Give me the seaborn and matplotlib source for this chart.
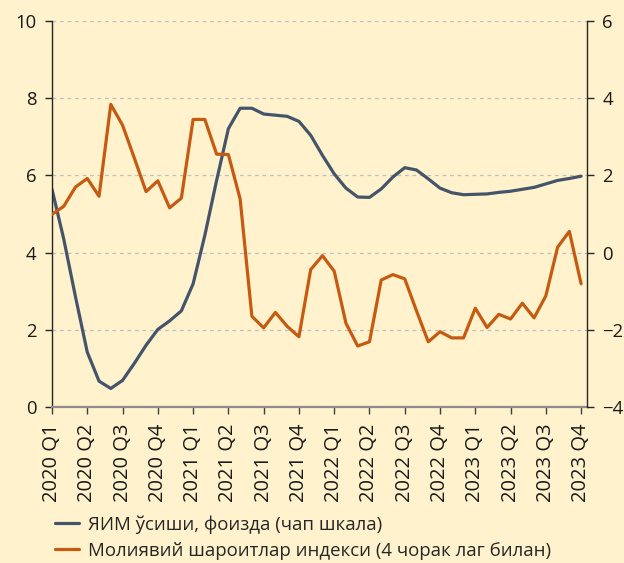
import numpy as np
import pandas as pd
import matplotlib
matplotlib.use("Agg")
import matplotlib.pyplot as plt
import seaborn as sns

# ---- data ----
quarter_labels = ["2020 Q1", "2020 Q2", "2020 Q3", "2020 Q4",
                  "2021 Q1", "2021 Q2", "2021 Q3", "2021 Q4",
                  "2022 Q1", "2022 Q2", "2022 Q3", "2022 Q4",
                  "2023 Q1", "2023 Q2", "2023 Q3", "2023 Q4"]
gdp_growth = [5.64, 4.35, 2.85, 1.42, 0.67, 0.48, 0.69, 1.13, 1.60, 2.01,
              2.23, 2.49, 3.19, 4.45, 5.87, 7.21, 7.74, 7.74, 7.59, 7.56,
              7.53, 7.40, 7.04, 6.52, 6.04, 5.67, 5.44, 5.43, 5.65, 5.96,
              6.20, 6.14, 5.91, 5.67, 5.55, 5.50, 5.51, 5.52, 5.56, 5.59,
              5.64, 5.69, 5.78, 5.87, 5.92, 5.98]
fci_lag4 = [0.99, 1.20, 1.70, 1.92, 1.46, 3.84, 3.30, 2.45, 1.58, 1.86,
            1.16, 1.41, 3.45, 3.45, 2.55, 2.54, 1.39, -1.65, -1.95, -1.55,
            -1.91, -2.18, -0.44, -0.08, -0.48, -1.83, -2.42, -2.31, -0.71, -0.57,
            -0.68, -1.51, -2.31, -2.05, -2.21, -2.21, -1.44, -1.94, -1.60, -1.72,
            -1.31, -1.69, -1.12, 0.14, 0.55, -0.81]
label_gdp = "ЯИМ ўсиши, фоизда (чап шкала)"
label_fci = "Молиявий шароитлар индекси (4 чорак лаг билан)"

periods = np.arange(len(gdp_growth))
df = pd.DataFrame({"period": periods, "gdp": gdp_growth, "fci": fci_lag4})

BG = "#FFF2CC"
BLUE = "#44546A"
ORANGE = "#C55A11"

sns.set_theme(style="white")
plt.rcParams["font.family"] = ["Open Sans", "DejaVu Sans"]
plt.rcParams["font.size"] = 13

fig = plt.figure(figsize=(6.24, 5.63), dpi=100, facecolor=BG)
ax = fig.add_axes([52 / 624, 1 - 407 / 563, 535 / 624, 386 / 563])
ax.set_facecolor(BG)
ax2 = ax.twinx()

sns.lineplot(data=df, x="period", y="gdp", ax=ax, color=BLUE, linewidth=2.3,
             label=label_gdp, legend=False)
sns.lineplot(data=df, x="period", y="fci", ax=ax2, color=ORANGE, linewidth=2.3,
             label=label_fci, legend=False)

ax.set_xlim(0, 45.5)
ax.set_ylim(0, 10)
ax2.set_ylim(-4, 6)
ax.set_yticks(np.arange(0, 11, 2))
ax2.set_yticks(np.arange(-4, 7, 2))
ax.set_xticks(np.arange(0, len(gdp_growth), 3))
ax.set_xticklabels(quarter_labels, rotation=90)
ax.set_xlabel("")
ax.set_ylabel("")
ax2.set_ylabel("")

ax.yaxis.grid(True, linestyle=(0, (3, 3)), color="#BFBFBF", linewidth=0.9)
ax.set_axisbelow(True)

for a in (ax, ax2):
    for s in a.spines.values():
        s.set_visible(False)
ax.spines["left"].set_visible(True)
ax.spines["left"].set_color("#262626")
ax.spines["left"].set_linewidth(1.0)
ax.spines["bottom"].set_visible(True)
ax.spines["bottom"].set_color("#8C8C8C")
ax.spines["bottom"].set_linewidth(1.6)
ax2.spines["right"].set_visible(True)
ax2.spines["right"].set_color("#262626")
ax2.spines["right"].set_linewidth(1.0)

ax.tick_params(axis="y", which="major", direction="out", length=5, width=1,
               color="#262626", labelsize=13.3, labelcolor="#1a1a1a", pad=6, left=True)
ax2.tick_params(axis="y", which="major", direction="out", length=5, width=1,
                color="#262626", labelsize=13.3, labelcolor="#1a1a1a", pad=6, right=True)
ax.tick_params(axis="x", which="major", direction="out", length=5, width=1,
               color="#404040", labelsize=14.5, labelcolor="#1a1a1a", pad=7, bottom=True)

h1, l1 = ax.get_legend_handles_labels()
h2, l2 = ax2.get_legend_handles_labels()
fig.legend(h1 + h2, l1 + l2, loc="upper left",
           bbox_to_anchor=(55 / 624, 1 - 515 / 563), frameon=False,
           fontsize=13.4, handlelength=1.3, handletextpad=0.45, labelspacing=0.45,
           borderaxespad=0, borderpad=0)

fig.savefig("out.png", dpi=100, facecolor=BG)
